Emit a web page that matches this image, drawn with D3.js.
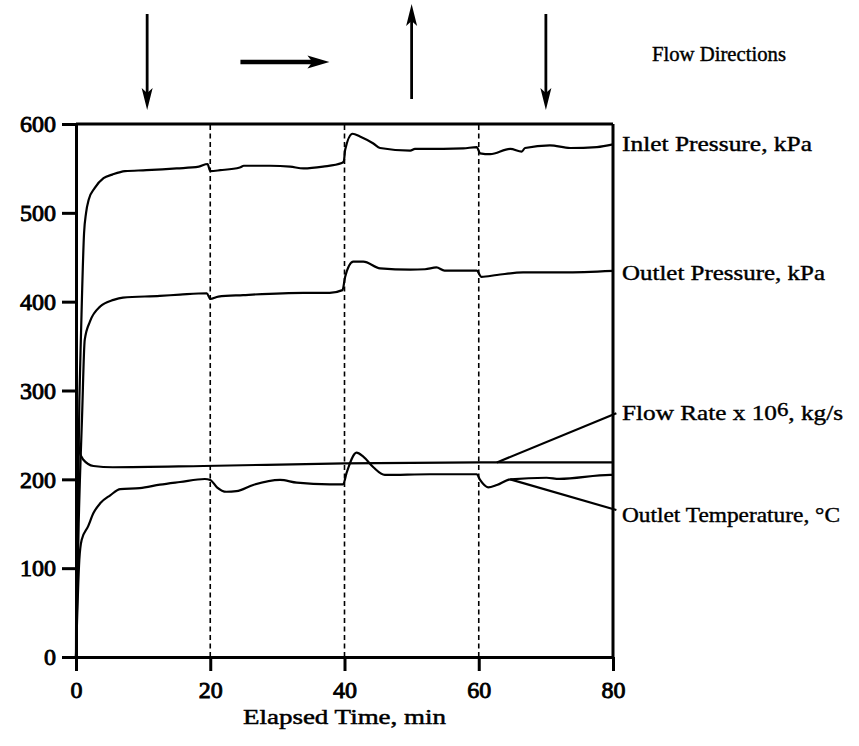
<!DOCTYPE html>
<html>
<head>
<meta charset="utf-8">
<script src="https://cdn.jsdelivr.net/npm/d3@7"></script>
<style>
  html, body { margin: 0; padding: 0; background: #fff; }
  svg { display: block; }
  text { font-family: "Liberation Serif", "Times New Roman", serif; fill: #000; }
</style>
</head>
<body>
<svg id="chart" width="859" height="746"></svg>
<script>
// ---------- data (time in min, value in chart units) ----------
const inletPressure = [
  [0,0],[0.5,289],[0.75,365],[1.2,477],[1.5,500],[1.9,515],[2.8,528],[4.1,539],[5.4,543],
  [7.3,547],[10.5,548],[15,550],[18.3,552],[19.6,555],[20,547],[21.5,548],[24.4,551],
  [25,553],[28.9,553],[31.9,552],[33.9,550],[36.8,552],[39.6,556],[39.9,558],[40.1,571],
  [41.2,589],[42.3,586],[44.3,578],[45.3,573],[49.8,570],[50.5,572],[54.7,572],[57.7,572.5],
  [59.7,574],[60.2,567],[61.7,566],[64.7,572],[66.4,569],[66.9,573],[70.6,576],
  [73.6,573],[77.6,574],[80,577]
];
const outletPressure = [
  [0,0],[0.4,150],[0.9,270],[1.3,357],[2.1,378],[3.6,394.5],[5.6,402],[7,404.6],
  [12.5,406.5],[15.5,408],[19.5,409.5],[20,403],[21.2,405.7],[24.9,407.4],[33.9,410],
  [37.8,410],[39.7,413],[40.1,428],[41.3,445],[42.8,445],[45.3,437.5],[49.8,436],
  [52,436.5],[53.7,438.5],[54.9,435],[59.7,435],[60.4,428],[62.7,430],[66.6,433],
  [72.6,433],[80,434.7]
];
const flowRate = [
  [0,0],[0.15,250],[0.5,232],[1.1,222],[2.6,215],[5.5,213.6],[19,215],[40,218],[60,219],[80,219]
];
const outletTemperature = [
  [0,0],[0.5,110],[0.85,132],[1.8,147],[2.6,162],[3.6,173],[5.1,182],[6.6,189],[9.5,190],
  [12.5,194],[15.5,197],[19.2,200.4],[20,199.3],[21,191],[22.4,186],[23.9,186.7],
  [26.4,193.7],[30.4,199.3],[32.9,196.2],[37.8,194.4],[39.8,194.4],[40.3,207],[41.8,230],
  [42.8,225.5],[44.3,213.6],[46,205],[52.7,205.7],[59.7,205.7],[60.2,199.3],[61.4,191],
  [62.7,193.7],[64.7,200],[70.1,201.8],[72,200.5],[79.6,205],[80,205]
];

const seriesNames = ["Inlet Pressure, kPa", "Outlet Pressure, kPa", "Flow Rate x 10", "Outlet Temperature, °C"];
const xTicks = [0, 20, 40, 60, 80];
const yTicks = [0, 100, 200, 300, 400, 500, 600];
const switchTimes = [20, 40, 60];
const arrowTimes = [10.6, 31.2, 50, 70];
const arrowDirs = ["down", "right", "up", "down"];
// leader lines: [from time, from value] -> [to time, to value]
const flowLeader = [[62.7, 219], [80.5, 274.5]];
const tempLeader = [[64.7, 200], [80.5, 165.5]];

// ---------- layout ----------
const svg = d3.select("#chart");
const x = d3.scaleLinear().domain([0, 80]).range([76, 613]);
const y = d3.scaleLinear().domain([0, 600]).range([657, 124]);

// dashed vertical lines at flow-direction switches
svg.append("g").selectAll("line").data(switchTimes).join("line")
  .attr("x1", d => x(d)).attr("x2", d => x(d))
  .attr("y1", y(0)).attr("y2", y(600))
  .attr("stroke", "#000").attr("stroke-width", 1.6)
  .attr("stroke-dasharray", "5,3.5");

// frame (top & right)
svg.append("line").attr("x1", x(0)).attr("x2", x(80)).attr("y1", y(600)).attr("y2", y(600))
  .attr("stroke", "#000").attr("stroke-width", 3);
svg.append("line").attr("x1", x(80)).attr("x2", x(80)).attr("y1", y(600)).attr("y2", y(0))
  .attr("stroke", "#000").attr("stroke-width", 3);

// axes
const xAxis = svg.append("g").attr("transform", `translate(0,${y(0)})`)
  .call(d3.axisBottom(x).tickValues(xTicks).tickSizeInner(14).tickSizeOuter(0).tickPadding(10));
const yAxis = svg.append("g").attr("transform", `translate(${x(0)},0)`)
  .call(d3.axisLeft(y).tickValues(yTicks).tickSizeInner(14).tickSizeOuter(0).tickPadding(6));
[xAxis, yAxis].forEach(g => {
  g.select(".domain").attr("stroke", "#000").attr("stroke-width", 3);
  g.selectAll(".tick line").attr("stroke", "#000").attr("stroke-width", 3);
  g.selectAll(".tick text").attr("font-family", "Liberation Serif")
    .attr("font-size", 24).attr("fill", "#000")
    .attr("stroke", "#000").attr("stroke-width", 0.9);
});
xAxis.selectAll(".tick text").attr("dy", "0.71em");

// axis title
svg.append("text").attr("x", x(40)).attr("y", 724).attr("text-anchor", "middle")
  .attr("font-size", 22).attr("stroke", "#000").attr("stroke-width", 0.5)
  .attr("textLength", 203).attr("lengthAdjust", "spacingAndGlyphs")
  .text("Elapsed Time, min");

// data lines
const line = d3.line().x(d => x(d[0])).y(d => y(d[1])).curve(d3.curveMonotoneX);
[inletPressure, outletPressure, flowRate, outletTemperature].forEach(s => {
  svg.append("path").datum(s).attr("d", line)
    .attr("fill", "none").attr("stroke", "#000").attr("stroke-width", 2.2)
    .attr("stroke-linejoin", "round");
});

// leader lines
[flowLeader, tempLeader].forEach(l => {
  svg.append("line")
    .attr("x1", x(l[0][0])).attr("y1", y(l[0][1]))
    .attr("x2", x(l[1][0])).attr("y2", y(l[1][1]))
    .attr("stroke", "#000").attr("stroke-width", 2.2);
});

// series labels
const labelY = [150.5, 280, 420, 521.5];
const labelW = [190, 203, 221, 218];
const labels = svg.append("g").attr("font-size", 21).attr("stroke", "#000").attr("stroke-width", 0.4);
seriesNames.forEach((name, i) => {
  const t = labels.append("text").attr("x", 622).attr("y", labelY[i])
    .attr("textLength", labelW[i]).attr("lengthAdjust", "spacingAndGlyphs");
  if (i === 2) {
    t.append("tspan").text(name);
    t.append("tspan").attr("dy", -4).attr("font-size", 19).text("6");
    t.append("tspan").attr("dy", 4).text(",  kg/s");
  } else {
    t.text(name);
  }
});

// flow directions title
svg.append("text").attr("x", 652).attr("y", 61).attr("font-size", 20)
  .attr("stroke", "#000").attr("stroke-width", 0.4)
  .attr("textLength", 134).attr("lengthAdjust", "spacingAndGlyphs")
  .text("Flow Directions");

// flow direction arrows
const ag = svg.append("g");
arrowTimes.forEach((t, i) => {
  const dir = arrowDirs[i];
  const hl = 22, hw = 5.5;
  let x1, y1, x2, y2, head;
  if (dir === "right") {
    x1 = x(t) - 45; x2 = x(t) + 44; y1 = y2 = 62;
    head = `M${x2},${y2} L${x2 - hl},${y2 - hw - 1} L${x2 - hl + 5},${y2} L${x2 - hl},${y2 + hw + 1} Z`;
  } else if (dir === "down") {
    x1 = x2 = x(t); y1 = 14; y2 = 110;
    head = `M${x2},${y2} L${x2 - hw},${y2 - hl} L${x2},${y2 - hl + 5} L${x2 + hw},${y2 - hl} Z`;
  } else {
    x1 = x2 = x(t); y1 = 99; y2 = 4;
    head = `M${x2},${y2} L${x2 - hw},${y2 + hl} L${x2},${y2 + hl - 5} L${x2 + hw},${y2 + hl} Z`;
  }
  const sw = dir === "right" ? 4.5 : 2.8;
  ag.append("line").attr("x1", x1).attr("y1", y1)
    .attr("x2", dir === "right" ? x2 - 10 : x2)
    .attr("y2", dir === "down" ? y2 - 10 : dir === "up" ? y2 + 10 : y2)
    .attr("stroke", "#000").attr("stroke-width", sw);
  ag.append("path").attr("d", head).attr("fill", "#000");
});
</script>
</body>
</html>
